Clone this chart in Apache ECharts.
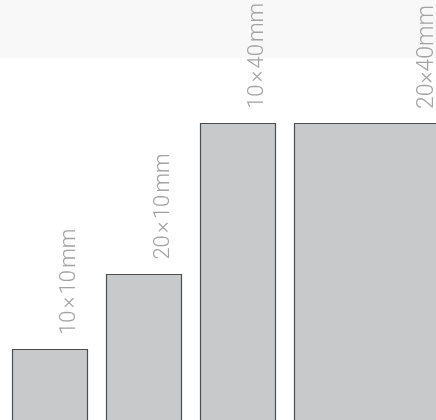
<!DOCTYPE html>
<html>
<head>
<meta charset="utf-8">
<script src="https://cdn.jsdelivr.net/npm/echarts@6/dist/echarts.min.js"></script>
<style>html,body{margin:0;padding:0;background:#fff}#c{width:436px;height:420px}</style>
</head>
<body>
<div id="c"></div>
<script>
var categories = ['10\u200A×\u200A10\u200Amm', '20\u200A×\u200A10\u200Amm', '10\u200A×\u200A40\u200Amm', '20×40mm'];
var labelSizes = [22, 22, 22, 23];
var heights = [10, 20, 40, 40];
var widths = [10, 10, 10, 20];
var gap = 2.5;

var data = [];
var start = 0;
for (var i = 0; i < categories.length; i++) {
  data.push([start, start + widths[i], heights[i], i]);
  start += widths[i] + gap;
}

var chart = echarts.init(document.getElementById('c'));
chart.setOption({
  animation: false,
  backgroundColor: '#fff',
  graphic: [{ type: 'rect', left: 0, top: 0, shape: { width: 436, height: 58 }, style: { fill: '#f8f8f8' }, z: -10 }],
  grid: { left: 12, top: 123, right: 0, bottom: 0 },
  xAxis: { type: 'value', min: 0, max: 56.31, show: false },
  yAxis: { type: 'value', min: 0.56, max: 40, show: false },
  series: [{
    type: 'custom',
    data: data,
    clip: false,
    renderItem: function (params, api) {
      var p0 = api.coord([api.value(0), api.value(2)]);
      var p1 = api.coord([api.value(1), 0]);
      var idx = api.value(3);
      return {
        type: 'group',
        children: [{
          type: 'rect',
          shape: { x: Math.round(p0[0]) + 0.5, y: Math.round(p0[1]) + 0.5, width: Math.round(p1[0] - p0[0]), height: p1[1] - p0[1] },
          style: { fill: '#c8c9cb', stroke: '#4d4d4d', lineWidth: 1.2 }
        }, {
          type: 'text',
          x: p1[0] - 18,
          y: p0[1] - 14,
          rotation: Math.PI / 2,
          style: {
            text: categories[idx],
            fill: '#a3a3a3',
            font: '300 ' + labelSizes[idx] + 'px Roboto',
            textAlign: 'left',
            textVerticalAlign: 'middle'
          }
        }]
      };
    }
  }]
});
</script>
</body>
</html>
